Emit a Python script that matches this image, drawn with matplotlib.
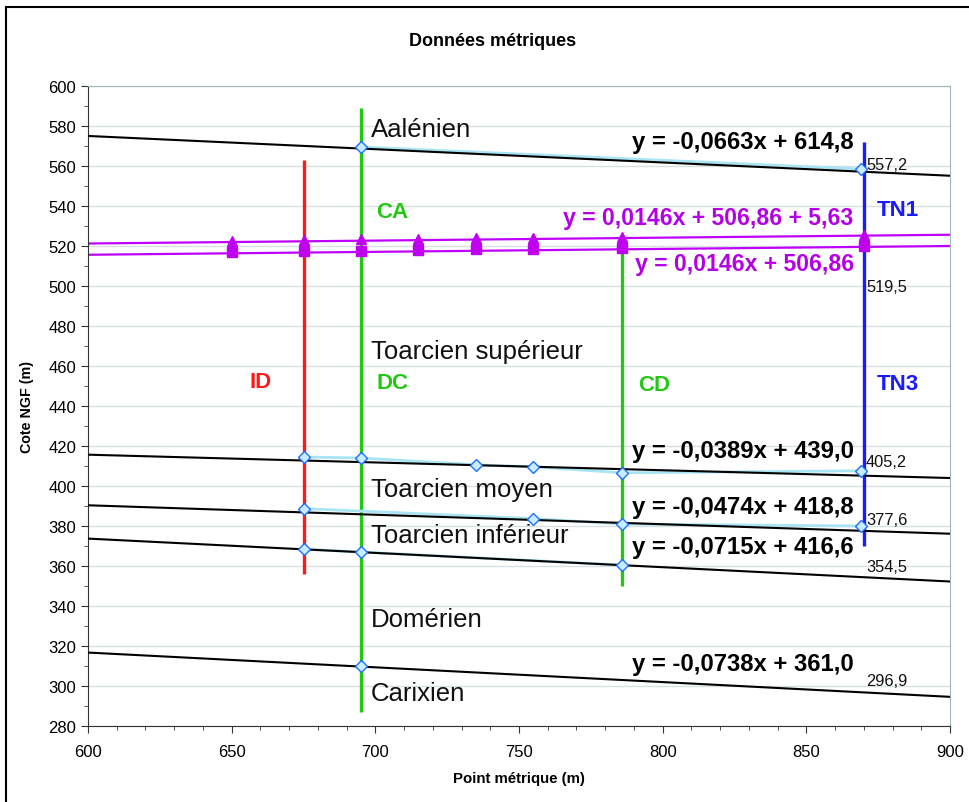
import matplotlib
matplotlib.use("Agg")
import matplotlib.pyplot as plt
import numpy as np
from matplotlib.patches import Rectangle

plt.rcParams['font.family'] = ['Liberation Sans', 'DejaVu Sans']

# ---------------- data ----------------
title = "Données métriques"
xlabel = "Point métrique (m)"
ylabel = "Cote NGF (m)"

# drill-hole vertical lines: name, x, bottom, top
wells_name = ["ID", "DC/CA", "CD", "TN1/TN3"]
wells_x = [675, 695, 786, 870]
wells_ymin = [356, 287, 350, 370]
wells_ymax = [563, 589, 523, 572]
wells_color = ["#ff1a1a", "#22c814", "#22c814", "#1a1aff"]

# boundary points (diamonds)
aal_x = [695, 869]
aal_y = [569.5, 558.5]
tsup_x = [675, 695, 735, 755, 786, 869]
tsup_y = [414.5, 414.0, 410.6, 409.6, 406.6, 407.6]
tmoy_x = [675, 755, 786, 869]
tmoy_y = [388.7, 383.7, 381.0, 380.0]
tinf_x = [675, 695, 786]
tinf_y = [368.5, 367.0, 360.5]
dom_x = [695]
dom_y = [310.0]

# trend lines (slope, intercept)
trend_slope = [-0.0663, -0.0389, -0.0474, -0.0715, -0.0738]
trend_icpt = [614.8, 439.0, 418.8, 416.6, 361.0]
trend_text = ["y = -0,0663x + 614,8", "y = -0,0389x + 439,0",
              "y = -0,0474x + 418,8", "y = -0,0715x + 416,6",
              "y = -0,0738x + 361,0"]
trend_text_y = [572.5, 417.5, 389.5, 369.5, 311.0]
trend_val = ["557,2", "405,2", "377,6", "354,5", "296,9"]
trend_val_y = [561.0, 412.0, 383.0, 359.5, 302.6]

# purple series
sq_x = [650, 675, 695, 715, 735, 755, 786, 870]
sq_y = [516.9, 517.3, 517.7, 518.0, 518.3, 518.6, 519.0, 520.0]
tri_x = [650, 675, 695, 715, 735, 755, 786, 870]
tri_y = [522.5, 522.9, 523.3, 523.6, 523.9, 524.2, 524.6, 525.6]
purple_slope = 0.0146
purple_icpt = 506.86
purple_shift = 5.63
purple_text = ["y = 0,0146x + 506,86 + 5,63", "y = 0,0146x + 506,86"]
purple_text_y = [534.5, 511.0]
purple_val = "519,5"
purple_val_y = 499.5

# formation labels
form_names = ["Aalénien", "Toarcien supérieur", "Toarcien moyen",
              "Toarcien inférieur", "Domérien", "Carixien"]
form_y = [578.5, 467.5, 398.5, 375.5, 333.5, 296.5]

# well labels
wl_text = ["CA", "DC", "CD", "ID", "TN1", "TN3"]
wl_x = [706, 706, 797, 660, 882, 882]
wl_y = [537.5, 451.5, 450.5, 452.0, 538.5, 451.0]
wl_color = ["#22c814", "#22c814", "#22c814", "#ff1a1a", "#1a1aff", "#1a1aff"]

# ---------------- figure ----------------
W, H = 969, 803
fig = plt.figure(figsize=(W / 100, H / 100), dpi=100)
ax = fig.add_axes([88 / W, 1 - 727 / H, (950 - 88) / W, (727 - 87) / H])

fig.patches.append(Rectangle((6 / W, -0.1), 1.2, 1 - 8 / H + 0.1,
                             transform=fig.transFigure, fill=False,
                             edgecolor="black", linewidth=1.5))

ax.set_xlim(600, 900)
ax.set_ylim(280, 600)
ax.set_xticks(np.arange(600, 901, 50))
ax.set_xticks(np.arange(600, 901, 10), minor=True)
ax.set_yticks(np.arange(280, 601, 20))
ax.set_yticks(np.arange(280, 601, 10), minor=True)
ax.grid(axis='y', which='major', color='#d8dfe0', linewidth=1.0)
ax.set_axisbelow(True)
ax.tick_params(which='major', direction='out', length=5, labelsize=12, color='#333333')
ax.tick_params(which='minor', direction='out', length=3, color='#333333')
ax.tick_params(axis='x', pad=8)
for s in ['top', 'right']:
    ax.spines[s].set_color('#9fb3bb')
for s in ['left', 'bottom']:
    ax.spines[s].set_color('#333333')

xx = np.array([600, 900])
# purple lines
ax.plot(xx, purple_slope * xx + purple_icpt + purple_shift, color='#c000ff', lw=1.6, zorder=2)
ax.plot(xx, purple_slope * xx + purple_icpt, color='#c000ff', lw=1.6, zorder=2)

# vertical wells
for x, y0, y1, c in zip(wells_x, wells_ymin, wells_ymax, wells_color):
    ax.plot([x, x], [y0, y1], color=c, lw=2.4, zorder=3, solid_capstyle='butt')

# cyan data series lines
for sx, sy in [(aal_x, aal_y), (tsup_x, tsup_y), (tmoy_x, tmoy_y), (tinf_x, tinf_y)]:
    ax.plot(sx, sy, color='#a8e4f4', lw=2.0, zorder=3.5)

# trend lines
for m, b in zip(trend_slope, trend_icpt):
    ax.plot(xx, m * xx + b, color='black', lw=1.5, zorder=4)

# diamond markers
for sx, sy in [(aal_x, aal_y), (tsup_x, tsup_y), (tmoy_x, tmoy_y), (tinf_x, tinf_y), (dom_x, dom_y)]:
    ax.plot(sx, sy, linestyle='none', marker='D', markersize=6.5,
            markerfacecolor='#c8ecfc', markeredgecolor='#1f6fff', markeredgewidth=1.0, zorder=5)

# purple markers
ax.plot(sq_x, sq_y, linestyle='none', marker='s', markersize=7.5, color='#c000f0', zorder=5)
ax.plot(tri_x, tri_y, linestyle='none', marker='^', markersize=7.5, color='#c000f0', zorder=5)

# texts
for name, y in zip(form_names, form_y):
    ax.text(698.5, y, name, fontsize=18.5, ha='left', va='center', color='#111111', zorder=6)

for t, x, y, c in zip(wl_text, wl_x, wl_y, wl_color):
    ax.text(x, y, t, fontsize=16, fontweight='bold', ha='center', va='center', color=c, zorder=6)

for t, y in zip(trend_text, trend_text_y):
    ax.text(866.5, y, t, fontsize=17.2, fontweight='bold', ha='right', va='center', color='black', zorder=6)

for t, y in zip(purple_text, purple_text_y):
    ax.text(866.5, y, t, fontsize=16.6, fontweight='bold', ha='right', va='center', color='#b400e6', zorder=6)

for t, y in zip(trend_val + [purple_val], trend_val_y + [purple_val_y]):
    ax.text(870.8, y, t, fontsize=11.8, ha='left', va='center', color='#111111', zorder=6)

fig.text(493 / W, 1 - 42 / H, title, fontsize=13, fontweight='bold', ha='center', va='center')
fig.text(519 / W, 1 - 779 / H, xlabel, fontsize=10.8, fontweight='bold', ha='center', va='center')
fig.text(27 / W, 1 - 407 / H, ylabel, fontsize=10.3, fontweight='bold', ha='center', va='center', rotation=90)

fig.savefig("out.png", dpi=100)
